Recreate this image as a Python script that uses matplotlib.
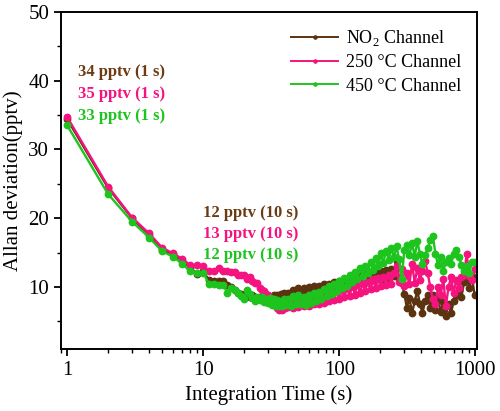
import matplotlib as mpl

mpl.use("Agg")

import matplotlib.pyplot as plt
from matplotlib.ticker import MultipleLocator, LogLocator, NullFormatter

# integration times (s)
tau = [1, 2, 3, 4, 5, 6, 7, 8, 9, 10, 11, 12, 13, 14, 15, 16, 17, 18, 19, 20,
       21, 22, 23, 24, 25, 26, 27, 28, 29, 30, 31, 32, 33, 34, 35, 36, 37, 38, 39, 40,
       42, 44, 46, 48, 50, 52, 55, 57, 60, 62, 65, 68, 71, 74, 77, 81, 84, 88, 92, 96,
       100, 105, 109, 114, 119, 125, 130, 136, 142, 149, 155, 162, 170, 177, 185, 194,
       202, 211, 221, 231, 241, 252, 264, 275, 288, 301, 314, 328, 343, 359, 375, 392,
       409, 428, 447, 467, 488, 510, 533, 557, 582, 608, 636, 664, 694, 726, 758, 792,
       828, 865, 904, 945, 988]

no2 = [34.4, 24.4, 20.0, 17.6, 15.4, 14.8, 13.8, 12.8, 11.9, 12.3, 11.0, 10.9, 10.9, 10.9, 10.3,
       10.0, 9.6, 9.1, 9.0, 8.9, 8.8, 8.6, 8.9, 8.5, 8.3, 8.6, 8.2, 8.4, 8.0, 8.3,
       8.6, 8.0, 8.8, 8.1, 8.9, 8.2, 9.0, 8.3, 9.1, 8.4,
       9.2, 8.4, 9.6, 8.6, 9.9, 8.8, 9.8, 8.7, 10.0, 8.9, 10.2, 9.0, 10.1, 9.1, 10.4, 9.2,
       10.5, 9.4, 10.7, 9.6, 10.9, 9.8, 11.1, 10.0, 11.3, 10.2, 11.5, 10.4, 11.7, 10.6,
       11.9, 10.8, 12.2, 11.0, 12.3, 11.1, 12.4, 11.2, 12.5, 11.3, 12.6, 11.6, 13.8, 11.2,
       10.6, 9.0, 7.0, 8.4, 6.2, 8.0, 9.4, 7.6, 6.2, 8.0, 8.8, 7.0, 8.8, 6.6, 8.2, 6.4,
       7.8, 5.8, 7.6, 6.2, 8.0, 8.8, 9.6, 8.6, 10.8, 11.8, 9.8, 11.6, 8.8]

ch250 = [34.7, 24.6, 20.1, 17.8, 15.7, 14.9, 14.1, 13.2, 13.2, 13.0, 12.4, 12.3, 12.8, 12.4, 12.3,
         12.2, 12.2, 11.8, 11.8, 11.8, 11.1, 11.4, 10.9, 10.6, 10.6, 9.9, 9.6, 9.4, 9.0, 8.9,
         8.4, 8.0, 7.6, 7.2, 6.9, 6.6, 7.5, 6.7, 7.7, 6.9,
         7.1, 8.3, 6.9, 8.2, 7.1, 8.4, 7.2, 8.5, 7.3, 8.6, 7.5, 8.7, 7.6, 8.9, 7.7, 9.1,
         7.9, 9.3, 8.1, 9.5, 8.3, 9.7, 8.5, 9.9, 8.7, 10.2, 8.9, 10.4, 9.2, 10.6,
         9.4, 10.8, 9.7, 11.1, 9.9, 11.3, 10.1, 11.5, 10.3, 11.8, 10.5, 12.1, 13.0, 10.8,
         12.6, 10.2, 12.0, 10.4, 13.4, 10.6, 12.8, 11.0, 12.4, 13.8, 12.0, 10.0, 8.2, 7.6,
         10.0, 8.8, 11.2, 7.2, 10.0, 11.4, 9.2, 11.0, 9.8, 11.4, 11.8, 14.8, 11.6, 11.0, 12.6]

ch450 = [33.5, 23.5, 19.5, 17.2, 15.2, 14.4, 13.4, 12.3, 12.0, 12.1, 10.5, 10.4, 10.3, 10.3, 9.2,
         9.8, 9.6, 9.2, 8.7, 8.2, 9.6, 9.0, 8.4, 7.9, 8.6, 8.1, 8.5, 7.8, 8.2, 7.7,
         8.4, 7.4, 8.2, 7.3, 8.1, 7.2, 8.0, 7.3, 8.2, 7.4,
         8.3, 7.3, 8.7, 7.5, 8.9, 7.6, 8.6, 7.4, 8.8, 7.7, 9.1, 7.9, 9.3, 8.3, 9.7, 8.7,
         10.1, 9.0, 10.5, 9.4, 10.9, 9.8, 11.3, 10.2, 11.7, 10.7, 12.2, 11.1, 12.7, 11.6,
         13.1, 12.0, 13.7, 12.5, 14.2, 13.0, 14.9, 13.5, 15.3, 13.9, 15.7, 14.3, 15.9, 14.1,
         11.2, 15.4, 16.1, 14.6, 16.4, 14.4, 16.7, 14.8, 13.3, 14.6, 15.7, 16.9, 17.4, 14.8,
         13.2, 14.4, 12.4, 13.6, 14.2, 13.4, 14.8, 15.4, 14.4, 13.2, 12.4, 13.0, 12.0, 13.6, 13.6]

labels = ["NO$_2$ Channel", "250 \u00b0C Channel", "450 \u00b0C Channel"]
notes_1s = ["34 pptv (1 s)", "35 pptv (1 s)", "33 pptv (1 s)"]
notes_10s = ["12 pptv (10 s)", "13 pptv (10 s)", "12 pptv (10 s)"]

colors = ["#5C3311", "#F5147F", "#1EC41E"]
text_colors = ["#6B3B14", "#F5147F", "#1EC41E"]

plt.rcParams["font.family"] = ["Liberation Serif", "DejaVu Serif"]
plt.rcParams["mathtext.fontset"] = "custom"
plt.rcParams["mathtext.rm"] = "Liberation Serif"

fig = plt.figure(figsize=(5.0, 4.11), dpi=100)
ax = fig.add_axes([0.122, 0.151, 0.832, 0.820])

for series, col, lab in zip([no2, ch250, ch450], colors, labels):
    ax.plot(tau, series, color=col, lw=1.7, marker="o", ms=4.6,
            mec=col, mfc=col, label=lab)

ax.set_xscale("log")
ax.set_xlim(0.9, 1030)
ax.set_ylim(1, 50)
ax.yaxis.set_major_locator(MultipleLocator(10))
ax.yaxis.set_minor_locator(MultipleLocator(5))
ax.xaxis.set_minor_locator(LogLocator(base=10, subs=range(2, 10), numticks=20))
ax.xaxis.set_minor_formatter(NullFormatter())
ax.set_xticks([1, 10, 100, 1000])
ax.set_xticklabels(["1", "10", "100", "1000"])

ax.tick_params(which="major", direction="out", length=5, width=1.3, labelsize=15)
ax.tick_params(which="minor", direction="out", length=3, width=1.0)
for s in ax.spines.values():
    s.set_linewidth(1.4)

ax.set_xlabel("Integration Time (s)", fontsize=15, labelpad=4)
ax.set_ylabel("Allan deviation(pptv)", fontsize=15, labelpad=4)

leg = ax.legend(loc="upper right", frameon=False, fontsize=13, handlelength=2.6,
                handletextpad=0.4, labelspacing=0.35, borderaxespad=0.5, markerscale=0.5)
for line in leg.get_lines():
    line.set_markevery([1])
    line.set_linewidth(1.4)

for i, (t1, t10) in enumerate(zip(notes_1s, notes_10s)):
    ax.text(0.041, 0.822 - i * 0.066, t1, transform=ax.transAxes, color=text_colors[i],
            fontsize=12, fontweight="bold", va="center", ha="left")
    ax.text(0.341, 0.404 - i * 0.062, t10, transform=ax.transAxes, color=text_colors[i],
            fontsize=12, fontweight="bold", va="center", ha="left")

plt.savefig("out.png", dpi=100)
